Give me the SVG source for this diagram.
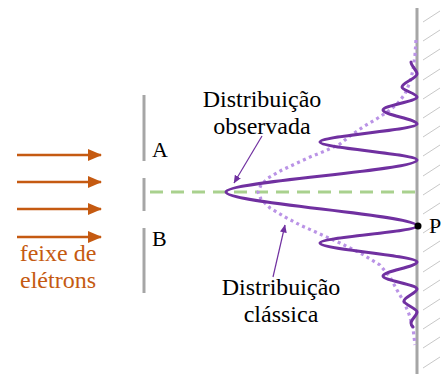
<svg xmlns="http://www.w3.org/2000/svg" width="445" height="374" viewBox="0 0 445 374">
  <style>
    .lbl { font-family: "Liberation Serif", "Times New Roman", serif; font-size: 24px; fill: #000; }
    .beam { font-family: "Liberation Serif", "Times New Roman", serif; font-size: 24px; fill: #C55A11; }
    .letter { font-family: "Liberation Serif", "Times New Roman", serif; font-size: 22px; fill: #000; }
    .wall { stroke: #A6A6A6; stroke-width: 3; fill: none; }
    .hatch { stroke: #C8C8C8; stroke-width: 1; }
    .ray { stroke: #C55A11; stroke-width: 2.5; fill: none; }
    .pointer { stroke: #7030A0; stroke-width: 1.2; fill: none; }
  </style>
  <defs>
    <marker id="orangeHead" markerWidth="14" markerHeight="12" refX="13" refY="6" orient="auto" markerUnits="userSpaceOnUse">
      <path d="M0,0 L14,6 L0,12 Z" fill="#C55A11"/>
    </marker>
    <marker id="thinHead" markerWidth="8" markerHeight="7" refX="7.5" refY="3.5" orient="auto" markerUnits="userSpaceOnUse">
      <path d="M0,0 L8,3.5 L0,7 Z" fill="#7030A0"/>
    </marker>
  </defs>

  <!-- screen with hatching -->
  <g id="screen">
    <line class="wall" x1="417" y1="8" x2="417" y2="374"/>
    <g class="hatch">
      <line x1="423" y1="22" x2="440" y2="11"/>
      <line x1="423" y1="41" x2="440" y2="30"/>
      <line x1="423" y1="60" x2="440" y2="49"/>
      <line x1="423" y1="80" x2="440" y2="69"/>
      <line x1="423" y1="99" x2="440" y2="88"/>
      <line x1="423" y1="118" x2="440" y2="107"/>
      <line x1="423" y1="137" x2="440" y2="126"/>
      <line x1="423" y1="156" x2="440" y2="145"/>
      <line x1="423" y1="176" x2="440" y2="165"/>
      <line x1="423" y1="195" x2="440" y2="184"/>
      <line x1="423" y1="214" x2="440" y2="203"/>
      <line x1="423" y1="233" x2="440" y2="222"/>
      <line x1="423" y1="252" x2="440" y2="241"/>
      <line x1="423" y1="272" x2="440" y2="261"/>
      <line x1="423" y1="291" x2="440" y2="280"/>
      <line x1="423" y1="310" x2="440" y2="299"/>
      <line x1="423" y1="329" x2="440" y2="318"/>
      <line x1="423" y1="348" x2="440" y2="337"/>
      <line x1="423" y1="368" x2="440" y2="357"/>
    </g>
  </g>

  <!-- double-slit barrier -->
  <g id="barrier">
    <line class="wall" x1="144" y1="95" x2="144" y2="161"/>
    <line class="wall" x1="144" y1="178" x2="144" y2="211"/>
    <line class="wall" x1="144" y1="228" x2="144" y2="293"/>
    <text class="letter" x="152" y="157">A</text>
    <text class="letter" x="152" y="246">B</text>
  </g>

  <!-- axis -->
  <g id="axis">
    <line x1="150" y1="192" x2="415" y2="192" stroke="#A9D18E" stroke-width="3" stroke-dasharray="13 8"/>
  </g>

  <!-- classical distribution -->
  <g id="classical">
    <path d="M416,40 L415,55 L413,70 L410,82 L405,94 L398,103 L390,110 L378,118 L363,127 L350,136 L340,144 L325,151 L310,157 L297,163 L282,170 L268,178 L261,185 L258,192 L261,199 L270,208 L285,217 L300,225 L320,234 L340,243 L362,254 L380,265 L390,277 L397,290 L404,302 L409,314 L413,328 L415,345"
          fill="none" stroke="#BA93E6" stroke-width="3.2" stroke-dasharray="3 3.5" stroke-linejoin="round"/>
  </g>

  <!-- observed distribution -->
  <g id="observed">
    <path d="M411,62 C411,66 417,70 417,74 C417,78.3 402,82.7 402,87 C402,90.3 417,93.7 417,97 C417,101.3 383,105.7 383,110 C383,114.7 417,119.3 417,124 C417,130 320,136 320,142 C320,148 417,154 417,160 C417,170.7 226,181.3 226,192 C226,203.3 417,214.7 417,226 C417,231.7 320,237.3 320,243 C320,249.3 417,255.7 417,262 C417,266.7 383,271.3 383,276 C383,280.3 417,284.7 417,289 C417,293 404,297 404,301 C404,304.7 417,308.3 417,312 C417,315.7 411,319.3 411,323 C411,325 412,326 413,327"
          fill="none" stroke="#7030A0" stroke-width="3" stroke-linecap="round"/>
  </g>

  <!-- point P -->
  <g id="pointP">
    <circle cx="418" cy="226" r="3.5" fill="#000"/>
    <text class="letter" x="429" y="233">P</text>
  </g>

  <!-- electron beam -->
  <g id="beam">
    <line class="ray" x1="17" y1="155" x2="101" y2="155" marker-end="url(#orangeHead)"/>
    <line class="ray" x1="17" y1="182" x2="101" y2="182" marker-end="url(#orangeHead)"/>
    <line class="ray" x1="17" y1="209" x2="101" y2="209" marker-end="url(#orangeHead)"/>
    <line class="ray" x1="17" y1="237" x2="101" y2="237" marker-end="url(#orangeHead)"/>
    <text class="beam" x="58" y="261" text-anchor="middle">feixe de</text>
    <text class="beam" x="58" y="288" text-anchor="middle">elétrons</text>
  </g>

  <!-- labels -->
  <g id="labelObserved">
    <text class="lbl" x="262" y="107" text-anchor="middle">Distribuição</text>
    <text class="lbl" x="262" y="134" text-anchor="middle">observada</text>
  </g>
  <g id="labelClassical">
    <text class="lbl" x="281" y="295" text-anchor="middle">Distribuição</text>
    <text class="lbl" x="281" y="322" text-anchor="middle">clássica</text>
  </g>

  <!-- label pointers -->
  <g id="connectors">
    <line class="pointer" x1="262" y1="136" x2="234" y2="183" marker-end="url(#thinHead)"/>
    <line class="pointer" x1="273" y1="277" x2="285" y2="225" marker-end="url(#thinHead)"/>
  </g>
</svg>
